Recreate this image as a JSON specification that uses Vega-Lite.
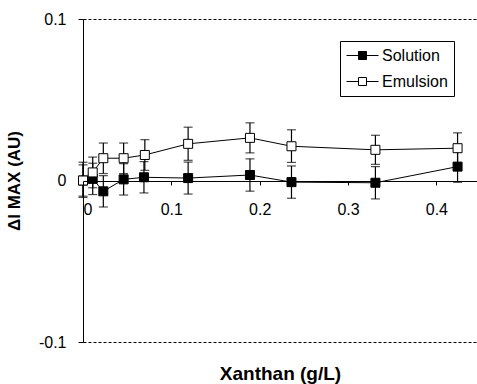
{
  "$schema": "https://vega.github.io/schema/vega-lite/v6.json",
  "width": 394,
  "height": 323,
  "autosize": "none",
  "padding": {"left": 83, "top": 19, "right": 0, "bottom": 42},
  "background": "white",
  "config": {
    "font": "Liberation Sans",
    "view": {"stroke": null},
    "axis": {"domainColor": "black", "tickColor": "black", "labelColor": "black", "titleColor": "black", "labelFontSize": 16, "labelFont": "Liberation Sans", "titleFont": "Liberation Sans"}
  },
  "data": {
    "values": [
      {"series": "Solution", "x": 0, "y": 0, "lo": -0.0097, "hi": 0.0097},
      {"series": "Solution", "x": 0.011, "y": 0.001, "lo": -0.0087, "hi": 0.0107},
      {"series": "Solution", "x": 0.023, "y": -0.0067, "lo": -0.0164, "hi": 0.003},
      {"series": "Solution", "x": 0.046, "y": 0.0007, "lo": -0.009, "hi": 0.0104},
      {"series": "Solution", "x": 0.069, "y": 0.002, "lo": -0.0077, "hi": 0.0117},
      {"series": "Solution", "x": 0.119, "y": 0.0015, "lo": -0.0084, "hi": 0.0114},
      {"series": "Solution", "x": 0.189, "y": 0.0034, "lo": -0.0066, "hi": 0.0134},
      {"series": "Solution", "x": 0.236, "y": -0.001, "lo": -0.011, "hi": 0.009},
      {"series": "Solution", "x": 0.331, "y": -0.0014, "lo": -0.0114, "hi": 0.0086},
      {"series": "Solution", "x": 0.424, "y": 0.0086, "lo": -0.0011, "hi": 0.0183},
      {"series": "Emulsion", "x": 0, "y": 0, "lo": -0.0105, "hi": 0.0113},
      {"series": "Emulsion", "x": 0.011, "y": 0.005, "lo": -0.0045, "hi": 0.0145},
      {"series": "Emulsion", "x": 0.023, "y": 0.0138, "lo": 0.0043, "hi": 0.0232},
      {"series": "Emulsion", "x": 0.046, "y": 0.0138, "lo": 0.0043, "hi": 0.0232},
      {"series": "Emulsion", "x": 0.07, "y": 0.0158, "lo": 0.0063, "hi": 0.0253},
      {"series": "Emulsion", "x": 0.119, "y": 0.0227, "lo": 0.0125, "hi": 0.033},
      {"series": "Emulsion", "x": 0.189, "y": 0.0264, "lo": 0.0171, "hi": 0.0357},
      {"series": "Emulsion", "x": 0.236, "y": 0.0212, "lo": 0.0112, "hi": 0.0314},
      {"series": "Emulsion", "x": 0.331, "y": 0.019, "lo": 0.01, "hi": 0.028},
      {"series": "Emulsion", "x": 0.424, "y": 0.02, "lo": 0.0105, "hi": 0.0295}
    ]
  },
  "encoding": {
    "x": {
      "field": "x", "type": "quantitative",
      "scale": {"domain": [0, 0.446], "nice": false, "zero": false},
      "axis": {
        "values": [0, 0.1, 0.2, 0.3, 0.4],
        "offset": -161,
        "tickSize": 4,
        "labelPadding": 16,
        "grid": false,
        "domainWidth": 1,
        "labelExpr": "datum.value == 0 ? '0' : format(datum.value, '.1f')",
        "title": "Xanthan (g/L)",
        "titleY": 198.5,
        "titleBaseline": "alphabetic",
        "titleFontSize": 19,
        "titleFontWeight": "bold",
        "zindex": 1
      }
    }
  },
  "layer": [
    {
      "mark": {"type": "rule", "color": "black", "strokeWidth": 1.2},
      "encoding": {
        "y": {
          "field": "lo", "type": "quantitative",
          "scale": {"domain": [-0.1, 0.1], "nice": false},
          "axis": {
            "values": [-0.1, 0, 0.1],
            "grid": true,
            "gridDash": {"condition": {"test": "datum.value == 0", "value": [1, 0]}, "value": [3, 2]},
            "gridOpacity": {"condition": {"test": "datum.value == 0", "value": 0}, "value": 1},
            "gridColor": "black",
            "gridWidth": 1,
            "tickSize": 5,
            "labelPadding": 12,
            "labelExpr": "datum.value > 0.05 ? '0.1' : (datum.value < -0.05 ? '-0.1' : '0')",
            "title": "ΔI MAX (AU)",
            "titleFontSize": 17,
            "titleFontWeight": "bold",
            "titlePadding": 15
          }
        },
        "y2": {"field": "hi"},
        "detail": {"field": "series"}
      }
    },
    {
      "mark": {"type": "tick", "orient": "horizontal", "color": "black", "size": 9, "thickness": 1.2},
      "encoding": {"y": {"field": "lo", "type": "quantitative"}}
    },
    {
      "mark": {"type": "tick", "orient": "horizontal", "color": "black", "size": 9, "thickness": 1.2},
      "encoding": {"y": {"field": "hi", "type": "quantitative"}}
    },
    {
      "mark": {"type": "line", "color": "black", "strokeWidth": 1},
      "encoding": {
        "y": {"field": "y", "type": "quantitative"},
        "detail": {"field": "series"}
      }
    },
    {
      "mark": {"type": "point", "shape": "square", "filled": true, "size": 81, "stroke": "black", "strokeWidth": 1, "opacity": 1},
      "encoding": {
        "y": {"field": "y", "type": "quantitative"},
        "fill": {
          "field": "series", "type": "nominal",
          "scale": {"domain": ["Solution", "Emulsion"], "range": ["black", "white"]},
          "legend": {
            "orient": "none",
            "legendX": 257,
            "legendY": 22,
            "title": null,
            "strokeColor": "black",
            "padding": 6,
            "cornerRadius": 0,
            "symbolType": "M-1,0H0.5M1.5,0H3M0.5,-0.5H1.5V0.5H0.5Z",
            "symbolSize": 256,
            "symbolStrokeColor": "black",
            "symbolStrokeWidth": 1,
            "labelFontSize": 16,
            "labelColor": "black",
            "labelOffset": 19,
            "rowPadding": 9
          }
        }
      }
    }
  ]
}
